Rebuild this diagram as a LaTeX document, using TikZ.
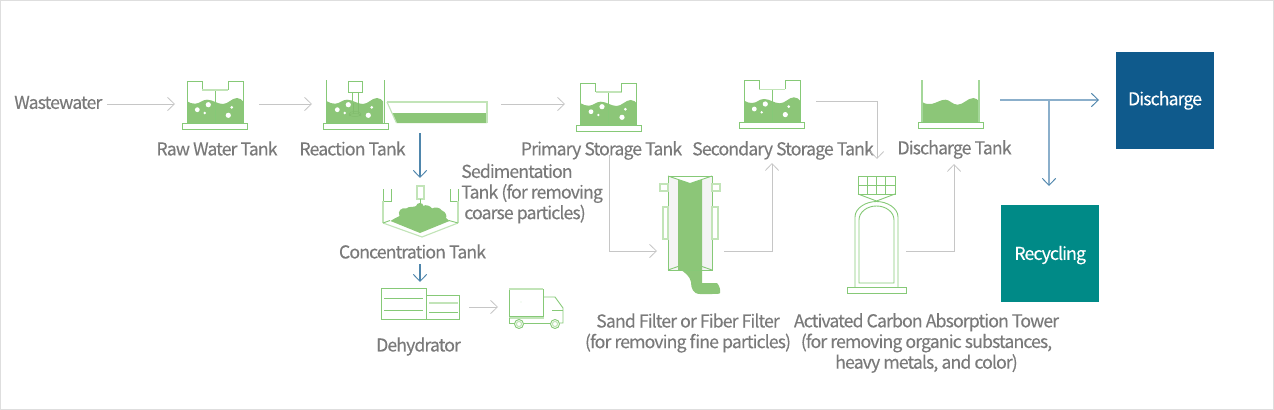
\documentclass[tikz,border=0pt]{standalone}
\usepackage{fontspec}
\setmainfont[LetterSpace=-5.2,FakeBold=0.25]{Noto Sans CJK KR}
\usetikzlibrary{arrows.meta}
\definecolor{leaf}{HTML}{8CC678}
\definecolor{leafline}{HTML}{86C977}
\definecolor{leafpale}{HTML}{C2E4B8}
\definecolor{impeller}{HTML}{82BD6E}
\definecolor{flowgray}{HTML}{C6C6C6}
\definecolor{flowblue}{HTML}{4F86AC}
\definecolor{flowsoft}{HTML}{8BAFCB}
\definecolor{labelgray}{HTML}{7A7A7A}
\definecolor{framegray}{HTML}{DEDEDE}
\definecolor{dischargeblue}{HTML}{0F5A8C}
\definecolor{recycleteal}{HTML}{008A87}
\definecolor{panegray}{HTML}{F4F4F4}
\tikzset{
  x=0.75pt, y=-0.75pt,
  outline/.style={draw=leafline, line width=0.68pt, fill=none},
  paleline/.style={draw=leafpale, line width=0.85pt, fill=none},
  water/.style={fill=leaf, draw=none},
  flow/.style={draw=flowgray, line width=0.7pt, -{Straight Barb[length=5.2pt,width=10pt,line width=0.6pt]}},
  flowmain/.style={draw=flowblue, line width=0.8pt, -{Straight Barb[length=5.2pt,width=10pt,line width=0.7pt]}},
  flowsplit/.style={draw=flowsoft, line width=1.05pt, -{Straight Barb[length=5.2pt,width=10pt,line width=0.7pt,color=flowblue]}},
  caption/.style={text=labelgray, font=\fontsize{13.3pt}{15.5pt}\selectfont, inner sep=0pt, align=center},
  outbox/.style={minimum width=73.5pt, minimum height=73pt, inner sep=0pt, text=white, font=\fontsize{13.3pt}{15pt}\selectfont},
  bubble/.style={fill=white, draw=none},
  tankbase/.pic={
    \draw[leafline, line width=0.68pt, fill=white] (-32.5,0) rectangle (32.5,6);
  },
  surface/.pic={
    \fill[water] (-28,0) -- (-28,-21.7)
      .. controls (-25,-20) and (-23,-19.3) .. (-20,-19.3)
      .. controls (-15,-19.3) and (-13,-23.3) .. (-8,-23.3)
      .. controls (-2,-23.3) and (2,-19) .. (8,-19)
      .. controls (13,-19) and (17,-25) .. (22,-25)
      .. controls (25,-25) and (27,-23) .. (28,-21.7)
      -- (28,0) -- cycle;
  },
  bubbles/.pic={
    \fill[bubble] (-17.7,-13.3) circle (2.4);
    \fill[bubble] (-6.7,-18.3) circle (2.6);
    \fill[bubble] (-10.3,-10) circle (1.3);
    \fill[bubble] (13.3,-7.7) circle (2.6);
    \fill[bubble] (16.7,-15.7) circle (1.5);
  },
  notched/.pic={
    \pic {surface};
    \pic {bubbles};
    \draw[leafline, line width=0.68pt] (0,-33) -- (0,0);
    \draw[outline] (-28,0) -- (-28,-42) -- (-13,-42) -- (-13,-33);
    \draw[paleline] (-13,-33) -- (13,-33);
    \draw[outline] (13,-33) -- (13,-42) -- (28,-42) -- (28,0);
    \pic {tankbase};
  }
}
\begin{document}
\begin{tikzpicture}
\useasboundingbox (0,0) rectangle (1274,410);
% page frame
\draw[framegray, line width=1pt] (0.6,0.6) rectangle (1273.4,409.4);

% equalisation and storage tanks
\pic at (215,123) {notched};
\pic at (608.7,125) {notched};
\pic at (772,122.3) {notched};

% reaction tank with impeller
\begin{scope}[shift={(355,123)}]
  \pic {surface};
  \pic {bubbles};
  \draw[impeller, line width=0.4pt] (0,-9) ellipse (6 and 2.5);
  \draw[impeller, line width=0.4pt] (-6,-7) arc[start angle=180, end angle=360, x radius=6, y radius=2.5];
  \draw[impeller, line width=0.5pt] (-2,-20) -- (-2,-9) (3,-20) -- (3,-9);
  \draw[outline] (-29,0) -- (-29,-42.5);
  \draw[outline] (29,0) -- (29,-42.5);
  \draw[outline] (-7,-42) rectangle (7.5,-31);
  \draw[outline] (-2.5,-31) -- (-2.5,-20) (3.5,-31) -- (3.5,-20);
  \draw[leafline, line width=0.68pt, fill=white] (-32,0) rectangle (33,6);
\end{scope}

% sedimentation channel
\fill[water] (392,113) -- (487,113) -- (487,123) -- (396.5,123) -- cycle;
\draw[paleline, line width=1.1pt] (387,102) -- (487,102) -- (487,123);
\draw[paleline] (387,102) -- (396.5,123);

% concentration tank
\draw[outline] (383,189) -- (383,201) -- (391,201) -- (391,189);
\draw[paleline] (383,201) -- (383,223);
\draw[outline] (458,189) -- (458,201) -- (450,201) -- (450,189);
\draw[paleline] (458,201) -- (458,223);
\draw[paleline] (417,186) rectangle (424,199);
\draw[outline] (420.5,199) -- (420.5,206);
\fill[water] (390.5,221)
  .. controls (395,218) and (398,217) .. (399.5,216)
  .. controls (397,211) and (402,207) .. (406,208.5)
  .. controls (409,206) and (414,207.5) .. (416,206)
  .. controls (417,202) and (423,202) .. (423.5,206)
  .. controls (425,204) and (431,206) .. (432,208.5)
  .. controls (435,206.5) and (440,207.5) .. (442,210.5)
  .. controls (446,212) and (447,216) .. (446,218)
  -- (449.5,221) -- (420,233) -- cycle;
\draw[paleline] (383,223) -- (422,237) -- (458,223);
\draw[outline] (383,223) -- (390,220.5);
\draw[outline] (458,223) -- (449,220.5);

% dehydrator
\draw[outline] (381,288) rectangle (426,319);
\draw[outline] (426,295) rectangle (459,319);
\draw[outline] (384,298) -- (423,298) (384,310) -- (423,310);
\draw[paleline] (429,303) -- (458,303);
\draw[outline] (429,312) -- (458,312);

% sludge truck
\draw[outline] (509,289) rectangle (543,316);
\draw[paleline] (509,289) -- (543,289);
\fill[leafline] (521,302) circle (0.4);
\draw[outline] (544,297) -- (555,297) -- (563,308) -- (563,323) -- (559.5,323);
\draw[outline] (552,310) -- (563,310);
\draw[paleline] (509,318) -- (544,318);
\draw[outline] (509,318) -- (509,323) -- (514.5,323);
\draw[outline] (523.5,323) -- (550.5,323);
\draw[outline] (519,324) circle (4.5);
\draw[paleline] (519,324) circle (2.6);
\draw[outline] (555,324) circle (4.5);
\draw[paleline] (555,324) circle (2.6);

% sand filter
\fill[panegray] (668,176) rectangle (712,270);
\fill[white] (668,176) -- (712,176) -- (690,183.5) -- cycle;
\fill[water] (678,179.5) -- (690,183.5) -- (702,179.5) -- (702,283)
  -- (717,283) .. controls (719,285) and (721,290) .. (720,293)
  .. controls (720,294) and (716,294) .. (712,294)
  -- (700,294) .. controls (693,294) and (691,288) .. (691,282)
  .. controls (690,276) and (684,272) .. (681,270) -- (678,270) -- cycle;
\draw[outline] (668,176) rectangle (712,270);
\draw[outline] (668,176) -- (690,183.5) -- (712,176);
\draw[outline] (668,270) -- (678,266.5) (712,270) -- (702,266.5);
\draw[paleline] (660,184) rectangle (668,191);
\draw[paleline] (712,184) rectangle (720,191);
\draw[paleline] (663,207) rectangle (668,239);
\draw[paleline] (712,207) rectangle (718,239);

% activated carbon tower
\draw[outline] (858,176) rectangle (895,194);
\draw[outline] (858,185) -- (895,185) (867,176) -- (867,194) (876,176) -- (876,194) (885,176) -- (885,194);
\draw[outline] (858,194) -- (876.5,201) -- (895,194);
\draw[outline] (855,287) -- (855,217) .. controls (855,208) and (866,201.5) .. (876.5,201.5)
  .. controls (887,201.5) and (898,208) .. (898,217) -- (898,287);
\draw[outline] (859,283) -- (859,220) .. controls (859,212) and (867,206) .. (876.5,206)
  .. controls (886,206) and (894,212) .. (894,220) -- (894,283) -- cycle;
\draw[outline] (847,287) rectangle (906,293);

% discharge tank
\begin{scope}[shift={(950.5,122)}]
  \fill[water] (-28.5,0) -- (-28.5,-20)
    .. controls (-25,-18) and (-22,-17.5) .. (-19,-18)
    .. controls (-14,-19) and (-10,-22.3) .. (-5,-22.3)
    .. controls (-1,-22.3) and (2,-17.3) .. (7,-17.3)
    .. controls (13,-17.3) and (17,-24) .. (23,-24)
    .. controls (26,-24) and (27,-22) .. (28.5,-20.7)
    -- (28.5,0) -- cycle;
  \draw[paleline, draw=leafline!75!white] (-28.5,0) -- (-28.5,-42);
  \draw[paleline, draw=leafline!75!white] (28.5,0) -- (28.5,-42);
  \draw[leafline, line width=0.68pt, fill=white] (-32.5,0) rectangle (32.5,6);
\end{scope}

% captions
\node[caption, anchor=west] (wastewater) at (14,102.5) {Wastewater};
\node[caption] (rawlabel) at (217,148.5) {Raw Water Tank};
\node[caption] (reactionlabel) at (352.5,148.5) {Reaction Tank};
\node[caption] (primarylabel) at (601.5,150.5) {Primary Storage Tank};
\node[caption] (secondarylabel) at (783,150.5) {Secondary Storage Tank};
\node[caption] (dischargelabel) at (954.5,149.5) {Discharge Tank};
\node[caption, align=left, anchor=north west] (sedlabel) at (461,163.5) {Sedimentation\\Tank (for removing\\\ coarse particles)};
\node[caption] (concentrationlabel) at (412.5,251.5) {Concentration Tank};
\node[caption] (dehydratorlabel) at (418.5,346.5) {Dehydrator};
\node[caption] (sandlabel) at (688,333) {Sand Filter or Fiber Filter\\(for removing fine particles)};
\node[caption] (carbonlabel) at (926.5,343) {Activated Carbon Absorption Tower\\(for removing organic substances,\\heavy metals, and color)};

% outlets
\node[outbox, fill=dischargeblue] (dischargebox) at (1165,100.5) {\raisebox{-3.6pt}[0pt][0pt]{Discharge}};
\node[outbox, fill=recycleteal] (recyclingbox) at (1049.5,253.5) {\raisebox{-4.8pt}[0pt][0pt]{\hspace{1pt}Recycling}};

% connection points on the process units
\coordinate (wastein) at (107,104);
\coordinate (rawin) at (175,104);
\coordinate (rawout) at (259,104);
\coordinate (reactin) at (312,104);
\coordinate (sedout) at (501,104);
\coordinate (primaryin) at (565,104);
\coordinate (primarydown) at (609,155);
\coordinate (sandin) at (657,251);
\coordinate (sandout) at (724,251);
\coordinate (secondaryin) at (772,163);
\coordinate (secondaryout) at (816,101);
\coordinate (carbonin) at (877,159);
\coordinate (carbonout) at (906,251);
\coordinate (dischargein) at (954,164);
\coordinate (tankout) at (1000,100);
\coordinate (split) at (1049,100);
\coordinate (boxin) at (1099,100);
\coordinate (recyclein) at (1049,186);
\coordinate (sedbottom) at (420,133);
\coordinate (concentrationin) at (420,178);
\coordinate (sludgeout) at (420,264);
\coordinate (dehydratorin) at (420,282);
\coordinate (dehydratorout) at (469,307);
\coordinate (truckin) at (498,307);

% flow lines
\draw[flow] (wastein) -- (rawin);
\draw[flow] (rawout) -- (reactin);
\draw[flow] (sedout) -- (primaryin);
\draw[flow] (primarydown) |- (sandin);
\draw[flow] (sandout) -| (secondaryin);
\draw[flow] (secondaryout) -| (carbonin);
\draw[flow] (carbonout) -| (dischargein);
\draw[flow] (dehydratorout) -- (truckin);
\draw[flowsplit] (tankout) -- (boxin);
\draw[flowsplit] (split) -- (recyclein);
\draw[flowmain] (sedbottom) -- (concentrationin);
\draw[flowmain] (sludgeout) -- (dehydratorin);
\end{tikzpicture}
\end{document}
